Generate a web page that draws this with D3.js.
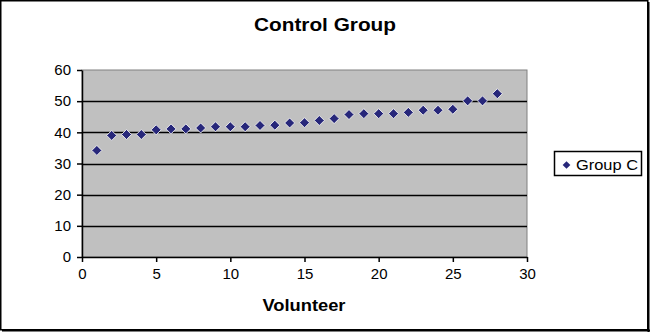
<!DOCTYPE html>
<html><head><meta charset="utf-8">
<script src="https://cdn.jsdelivr.net/npm/d3@7"></script>
<style>body{margin:0;background:#fff}svg{display:block}</style>
</head><body>
<script>
const volunteers = [1,2,3,4,5,6,7,8,9,10,11,12,13,14,15,16,17,18,19,20,21,22,23,24,25,26,27,28];
const groupC = [34.2,39,39.3,39.3,40.8,41.1,41.1,41.4,41.8,41.8,41.8,42.2,42.3,43,43.1,43.8,44.4,45.7,46,46,46,46.4,47.1,47.1,47.4,50.1,50.1,52.4];
const xTicks = [0,5,10,15,20,25,30];
const yTicks = [0,10,20,30,40,50,60];
const seriesName = "Group C";
const title = "Control Group";
const xTitle = "Volunteer";

const W = 650, H = 332;
const L = 82, R = 527, T = 70, B = 257;
const svg = d3.select("body").append("svg").attr("width", W).attr("height", H);
svg.append("rect").attr("width", W).attr("height", H).attr("fill", "#fff");

const x = d3.scaleLinear().domain([0,30]).range([L,R]);
const y = d3.scaleLinear().domain([0,60]).range([B,T]);

svg.append("rect").attr("x", L).attr("y", T).attr("width", R-L).attr("height", B-T)
  .attr("fill", "#c0c0c0").attr("stroke", "#808080").attr("stroke-width", 1);

svg.append("g").selectAll("line").data(yTicks.filter(d => d > 0 && d < 60)).join("line")
  .attr("x1", L).attr("x2", R).attr("y1", d => Math.round(y(d))+0.5).attr("y2", d => Math.round(y(d))+0.5)
  .attr("stroke", "#000").attr("stroke-width", 1.5);

const fontF = "'Liberation Sans', Arial, sans-serif";
const yAxis = svg.append("g").attr("transform", `translate(${L},0)`)
  .call(d3.axisLeft(y).tickValues(yTicks).tickSize(5).tickSizeOuter(0).tickPadding(6));
const xAxis = svg.append("g").attr("transform", `translate(0,${B})`)
  .call(d3.axisBottom(x).tickValues(xTicks).tickSize(5).tickSizeOuter(0).tickPadding(6));
[yAxis, xAxis].forEach(g => {
  g.selectAll("path,line").attr("stroke", "#000").attr("stroke-width", 1.5);
  g.selectAll("text").attr("font-family", fontF).attr("font-size", 15).attr("fill", "#000");
});

const diamond = d3.symbol().type(d3.symbolSquare).size(50);
svg.append("g").selectAll("path").data(volunteers).join("path")
  .attr("d", diamond)
  .attr("transform", (d,i) => `translate(${x(d)},${y(groupC[i])}) rotate(45)`)
  .attr("fill", "#27277a").attr("stroke", "#f4f4f4").attr("stroke-width", 0.8);

svg.append("text").attr("x", 325).attr("y", 31).attr("text-anchor", "middle")
  .attr("font-family", fontF).attr("font-weight", "bold").attr("font-size", 19)
  .attr("textLength", 142).attr("lengthAdjust", "spacingAndGlyphs").text(title);
svg.append("text").attr("x", 304).attr("y", 311).attr("text-anchor", "middle")
  .attr("font-family", fontF).attr("font-weight", "bold").attr("font-size", 16)
  .attr("textLength", 83).attr("lengthAdjust", "spacingAndGlyphs").text(xTitle);

const lg = svg.append("g");
lg.append("rect").attr("x", 554.5).attr("y", 151.5).attr("width", 87).attr("height", 24)
  .attr("fill", "#fff").attr("stroke", "#000").attr("stroke-width", 1.5);
lg.append("path").attr("d", d3.symbol().type(d3.symbolSquare).size(30))
  .attr("transform", "translate(566.5,165) rotate(45)").attr("fill", "#27277a");
lg.append("text").attr("x", 576).attr("y", 170).attr("font-family", fontF).attr("font-size", 15)
  .attr("textLength", 62).attr("lengthAdjust", "spacingAndGlyphs").text(seriesName);

svg.append("rect").attr("x", 0.75).attr("y", 0.75).attr("width", W-3).attr("height", H-3)
  .attr("fill", "none").attr("stroke", "#000").attr("stroke-width", 1.5);
svg.append("line").attr("x1", W-1.5).attr("x2", W-1.5).attr("y1", 2).attr("y2", H).attr("stroke", "#000").attr("stroke-width", 2);
svg.append("line").attr("x1", 2).attr("x2", W).attr("y1", H-1.5).attr("y2", H-1.5).attr("stroke", "#000").attr("stroke-width", 2);
</script>
</body></html>
